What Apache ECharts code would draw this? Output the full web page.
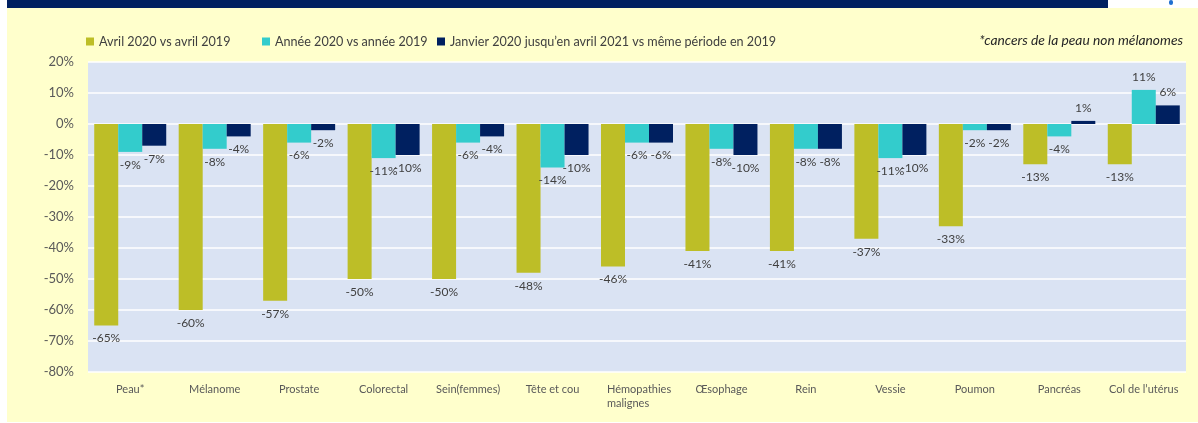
<!DOCTYPE html>
<html>
<head>
<meta charset="utf-8">
<script src="https://cdn.jsdelivr.net/npm/echarts@6/dist/echarts.min.js"></script>
<style>
  html, body { margin: 0; padding: 0; background: #fff; }
  #chart { width: 1198px; height: 423px; }
</style>
</head>
<body>
<div id="chart"></div>
<script>
// catégories et valeurs (en %)
const categories = ['Peau*', 'Mélanome', 'Prostate', 'Colorectal', 'Sein(femmes)', 'Tête et cou',
  'Hémopathies malignes', 'Œsophage', 'Rein', 'Vessie', 'Poumon', 'Pancréas', 'Col de l’utérus']
const avril = [-65, -60, -57, -50, -50, -48, -46, -41, -41, -37, -33, -13, -13]
const annee = [-9, -8, -6, -11, -6, -14, -6, -8, -8, -11, -2, -4, 11]
const periode = [-7, -4, -2, -10, -4, -10, -6, -10, -8, -10, -2, 1, 6]
const seriesNames = ['Avril 2020 vs avril 2019', 'Année 2020 vs année 2019',
  'Janvier 2020 jusqu’en avril 2021 vs même période en 2019']
const note = '*cancers de la peau non mélanomes'

const OLIVE = '#BDBE27'
const CYAN = '#33CCCC'
const NAVY = '#002060'
const FONT = 'Lato'

const chart = echarts.init(document.getElementById('chart'))

function withLabels(arr) {
  // étiquette sous la barre si négatif, au-dessus sinon
  return arr.map((v) => ({ value: v, label: { position: v < 0 ? 'bottom' : 'top' } }))
}

function bar(name, data, color) {
  return {
    name, type: 'bar', data: withLabels(data),
    barWidth: 24, barGap: '0%',
    itemStyle: { color },
    label: {
      show: true, distance: 7, fontFamily: FONT, fontSize: 12, color: '#404040',
      formatter: (p) => Math.round(p.value) + '%',
    },
  }
}

function legendAt(name, left) {
  return {
    data: [name], left, top: 35, padding: 0,
    icon: 'rect', itemWidth: 8, itemHeight: 8,
    textStyle: { fontFamily: FONT, fontSize: 12.6, color: '#404040' },
    selectedMode: false,
  }
}

chart.setOption({
  animation: false,
  textStyle: { fontFamily: FONT },
  graphic: [
    { type: 'rect', z: -10, shape: { x: 7, y: 8, width: 1191, height: 414 }, style: { fill: '#FFFFCC' } },
    { type: 'rect', z: -10, shape: { x: 7, y: 0, width: 1101, height: 8 }, style: { fill: NAVY } },
    { type: 'rect', z: -10, shape: { x: 1169, y: 0, width: 4, height: 5, r: 2 }, style: { fill: '#1F6FD0' } },
    {
      type: 'text', right: 15, top: 34,
      style: { text: note, fontFamily: FONT, fontSize: 13.8, fontStyle: 'italic', fill: '#262626' },
    },
  ],
  legend: [
    legendAt(seriesNames[0], 86),
    legendAt(seriesNames[1], 262),
    legendAt(seriesNames[2], 437),
  ],
  grid: {
    left: 88, right: 12, top: 62, height: 310,
    show: true, backgroundColor: '#DAE3F3', borderWidth: 0,
  },
  xAxis: {
    type: 'category', data: categories,
    axisLine: { show: false, onZero: false },
    axisTick: { show: false },
    axisLabel: {
      interval: 0, margin: 10, fontFamily: FONT, fontSize: 11, color: '#595959', lineHeight: 14,
      formatter: (v) => v === 'Hémopathies malignes' ? '{h|Hémopathies}\n{h|malignes}' : v,
      rich: { h: { width: 60, align: 'left', fontFamily: FONT, fontSize: 11, color: '#595959', lineHeight: 14 } },
    },
  },
  yAxis: {
    type: 'value', min: -80, max: 20, interval: 10,
    axisLine: { show: false }, axisTick: { show: false },
    axisLabel: { formatter: '{value}%', fontFamily: FONT, fontSize: 13, color: '#595959', margin: 14 },
    splitLine: { lineStyle: { color: '#FFFFFF', width: 1.5 } },
  },
  series: [
    bar(seriesNames[0], avril, OLIVE),
    bar(seriesNames[1], annee, CYAN),
    bar(seriesNames[2], periode, NAVY),
  ],
})
</script>
</body>
</html>
